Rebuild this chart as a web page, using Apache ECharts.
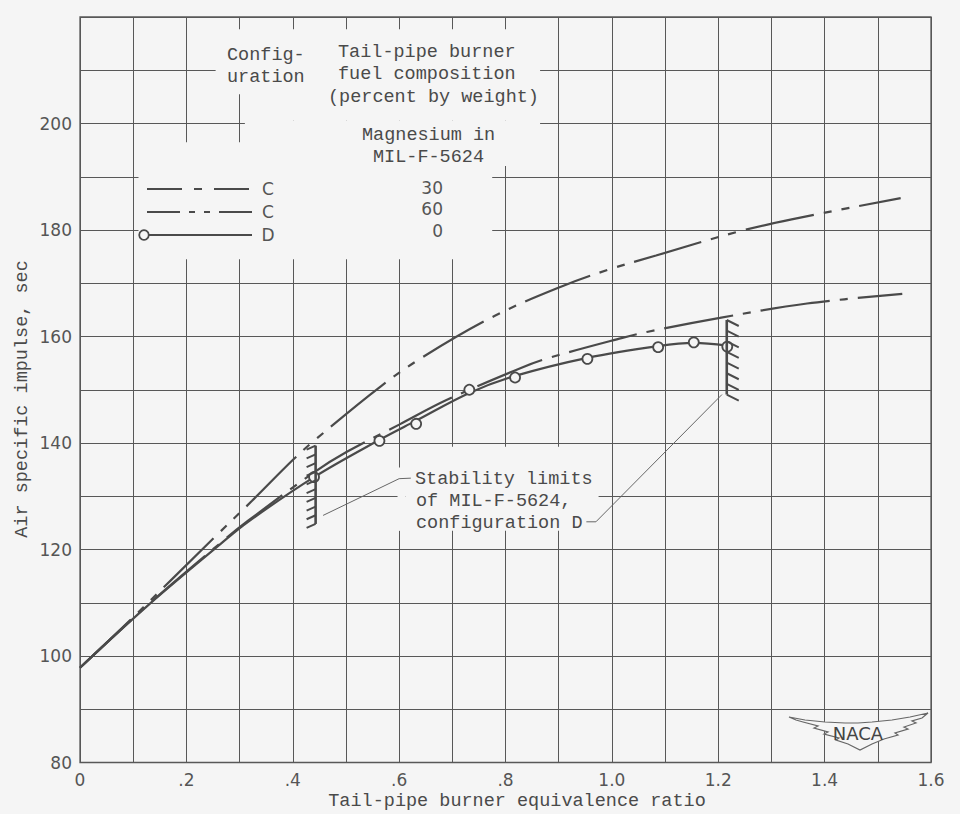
<!DOCTYPE html>
<html>
<head>
<meta charset="utf-8">
<script src="https://cdn.jsdelivr.net/npm/echarts/dist/echarts.min.js"></script>
<style>
html,body{margin:0;padding:0;background:#f5f5f5;}
#c{width:960px;height:814px;}
</style>
</head>
<body>
<div id="c"></div>
<script>
// ---------- data ----------
// Configuration C, 60 percent magnesium in MIL-F-5624
const equivRatioMg60 = [0, 0.093, 0.253, 0.323, 0.400, 0.441, 0.565, 0.647, 0.780, 0.903, 0.995, 1.083, 1.234, 1.338, 1.543];
const impulseMg60    = [97.8, 106.6, 122.3, 129.1, 136.8, 140.5, 150.6, 156.3, 163.9, 169.3, 172.6, 175.2, 179.6, 182.0, 186.0];
// Configuration C, 30 percent magnesium in MIL-F-5624
const equivRatioMg30 = [0, 0.131, 0.265, 0.316, 0.440, 0.501, 0.601, 0.690, 0.829, 0.879, 1.018, 1.068, 1.203, 1.367, 1.546];
const impulseMg30    = [97.8, 109.9, 121.3, 125.4, 134.5, 138.3, 143.5, 148.1, 154.1, 155.9, 159.7, 160.9, 163.5, 166.2, 168.0];
// Configuration D, 0 percent magnesium: faired curve
const fairEquivD   = [0, 0.131, 0.265, 0.316, 0.440, 0.563, 0.632, 0.732, 0.818, 0.954, 1.087, 1.154, 1.217];
const fairImpulseD = [97.8, 109.8, 121.1, 125.2, 133.6, 140.6, 144.2, 149.4, 152.6, 156.0, 158.2, 158.8, 158.3];
// Configuration D test points (circles)
const testEquivD   = [0.440, 0.563, 0.632, 0.732, 0.818, 0.954, 1.087, 1.154, 1.217];
const testImpulseD = [133.6, 140.4, 143.6, 150.0, 152.3, 155.8, 158.0, 158.9, 158.1];
// Stability limits of MIL-F-5624, configuration D (hatched bars)
const stabilityLimitX    = [0.443, 1.216];
const stabilityLimitLow  = [124.8, 149.1];
const stabilityLimitHigh = [139.5, 163.1];
// Leader lines from the note to the stability bars
const leaderLeft  = [[0.457, 126.4], [0.600, 133.3], [0.622, 133.4]];
const leaderRight = [[0.952, 125.2], [0.970, 125.2], [1.207, 149.1]];
// Areas of the grid blanked behind the printed notes (data units: x0, x1, y0, y1)
const maskBoxes = [
  [0.255, 0.305, 205.5, 217.7],
  [0.305, 0.865, 200.6, 217.7],
  [0.310, 0.865, 192.0, 200.6],
  [0.110, 0.775, 174.5, 196.5],
  [0.597, 0.612, 123.5, 135.4],
  [0.612, 0.975, 123.5, 139.3]
];
// Tick labels
const xTickLabels = ['0', '.2', '.4', '.6', '.8', '1.0', '1.2', '1.4', '1.6'];
const yTickLabels = ['80', '100', '120', '140', '160', '180', '200'];
// Legend text
const legendConfig = ['C', 'C', 'D'];
const legendMagnesium = ['30', '60', '0'];

// ---------- styles ----------
const BG = '#f5f5f5';
const INK = '#4a4a4a';
const GRID = '#585858';
const MONO = '"Liberation Mono", "DejaVu Sans Mono", monospace';
const LETTER = '"DejaVu Sans", "Liberation Sans", sans-serif';
const TSIZE = 18.5;

const zip = (xs, ys) => xs.map((x, i) => [x, ys[i]]);

const chart = echarts.init(document.getElementById('c'), null, {renderer: 'svg'});

function maskRender(params, api) {
  const p0 = api.coord([api.value(0), api.value(3)]);
  const p1 = api.coord([api.value(1), api.value(2)]);
  return {type: 'rect', shape: {x: p0[0], y: p0[1], width: p1[0] - p0[0], height: p1[1] - p0[1]},
          style: {fill: BG}};
}

function hatchRender(params, api) {
  const i = params.dataIndex;
  const x = api.value(0), lo = api.value(1), hi = api.value(2);
  const top = api.coord([x, hi]), bot = api.coord([x, lo]);
  const side = i === 0 ? -1 : 1;
  const n = i === 0 ? 10 : 8;
  const dx = i === 0 ? 9 : 12, dy = i === 0 ? 4 : 6;
  const children = [{type: 'line', shape: {x1: top[0], y1: top[1], x2: bot[0], y2: bot[1]},
                     style: {stroke: INK, lineWidth: 2.6}}];
  for (let k = 0; k < n; k++) {
    const y = top[1] + (bot[1] - top[1]) * k / (n - 1);
    children.push({type: 'line', shape: {x1: top[0], y1: y, x2: top[0] + side * dx, y2: y + dy},
                   style: {stroke: INK, lineWidth: 2}});
  }
  return {type: 'group', children};
}

function txt(text, x, y, align, opts) {
  return Object.assign({
    type: 'text', x: x, y: y, z: 100, silent: true,
    style: Object.assign({text: text, fill: INK, font: TSIZE + 'px ' + MONO,
                          align: align, verticalAlign: 'middle'}, (opts && opts.style) || {})
  }, (opts && opts.el) || {});
}

// NACA logo outline (pixels)
const LX = 0, LY = 4;
const logoPts = [
  [789,713],[805,716],[825,718],[845,719],[858,719],[872,718],[892,716],[910,713],[928,709],
  [922,714],[912,717],[916,719],[904,723],[908,725],[895,729],[898,731],[884,735],[872,740],[860,746],
  [848,740],[836,736],[839,734],[824,730],[828,728],[814,724],[818,722],[803,718],[796,716],[789,713]
].map(p => [p[0] + LX, p[1] + LY]);

const SMALL = {style: {font: '17px ' + LETTER, fill: '#555'}};

const graphics = [
  // header
  txt('Config-', 227, 55, 'left'),
  txt('uration', 227, 77, 'left'),
  txt('Tail-pipe burner', 338, 52, 'left'),
  txt('fuel composition', 338, 74, 'left'),
  txt('(percent by weight)', 328, 97, 'left'),
  txt('Magnesium in', 362, 135, 'left'),
  txt('MIL-F-5624', 373, 157, 'left'),
  // legend samples
  {type: 'line', z: 100, silent: true, shape: {x1: 147, y1: 189, x2: 252, y2: 189},
   style: {stroke: INK, lineWidth: 2.2, lineDash: [35, 12, 8, 12]}},
  {type: 'line', z: 100, silent: true, shape: {x1: 147, y1: 212, x2: 252, y2: 212},
   style: {stroke: INK, lineWidth: 2.2, lineDash: [33, 9, 6, 9, 6, 9]}},
  {type: 'line', z: 100, silent: true, shape: {x1: 149, y1: 235, x2: 252, y2: 235},
   style: {stroke: INK, lineWidth: 2.2}},
  {type: 'circle', z: 101, silent: true, shape: {cx: 144, cy: 235, r: 4.8},
   style: {fill: BG, stroke: INK, lineWidth: 1.8}},
  txt(legendConfig[0], 268, 189, 'center', SMALL),
  txt(legendConfig[1], 268, 212, 'center', SMALL),
  txt(legendConfig[2], 268, 235, 'center', SMALL),
  txt(legendMagnesium[0], 443, 188, 'right', SMALL),
  txt(legendMagnesium[1], 443, 209, 'right', SMALL),
  txt(legendMagnesium[2], 443, 231, 'right', SMALL),
  // note
  txt('Stability limits', 415, 479, 'left'),
  txt('of MIL-F-5624,', 416, 501.5, 'left'),
  txt('configuration D', 416, 523, 'left'),
  // axis titles
  txt('Tail-pipe burner equivalence ratio', 517, 801, 'center'),
  txt('Air specific impulse, sec', 22, 399, 'center', {el: {rotation: Math.PI / 2}}),
  // NACA logo
  {type: 'polygon', z: 100, silent: true, shape: {points: logoPts},
   style: {fill: BG, stroke: '#666', lineWidth: 1.2}},
  txt('NACA', 858 + LX, 729 + LY, 'center', {style: {font: '18px ' + LETTER, fill: '#444'}})
];

const option = {
  backgroundColor: BG,
  animation: false,
  grid: {left: 80, right: 29, top: 17, bottom: 51.5, show: true,
         borderColor: GRID, borderWidth: 1.3, outerBoundsMode: 'none'},
  xAxis: {
    type: 'value', min: 0, max: 1.6, interval: 0.1,
    axisLine: {show: false}, axisTick: {show: false},
    splitLine: {show: true, lineStyle: {color: GRID, width: 1}},
    axisLabel: {
      margin: 9, fontFamily: LETTER, fontSize: 17, color: '#555',
      formatter: v => { const i = Math.round(v / 0.2); return Math.abs(v - i * 0.2) < 1e-6 ? (xTickLabels[i] || '') : ''; }
    }
  },
  yAxis: {
    type: 'value', min: 80, max: 220, interval: 10,
    axisLine: {show: false}, axisTick: {show: false},
    splitLine: {show: true, lineStyle: {color: GRID, width: 1}},
    axisLabel: {
      margin: 8, fontFamily: LETTER, fontSize: 17, color: '#555',
      formatter: v => { const i = Math.round((v - 80) / 20); return Math.abs(v - 80 - i * 20) < 1e-6 ? (yTickLabels[i] || '') : ''; }
    }
  },
  series: [
    {type: 'custom', name: 'mask', silent: true, z: 1, renderItem: maskRender,
     encode: {x: [0, 1], y: [2, 3]}, data: maskBoxes},
    {type: 'line', name: 'C, 60 percent Mg', z: 3, data: zip(equivRatioMg60, impulseMg60),
     showSymbol: false, smooth: 0.35,
     lineStyle: {color: INK, width: 2.2, type: [70, 10, 8, 10, 8, 10]}},
    {type: 'line', name: 'C, 30 percent Mg', z: 3, data: zip(equivRatioMg30, impulseMg30),
     showSymbol: false, smooth: 0.35,
     lineStyle: {color: INK, width: 2.2, type: [70, 10, 8, 10]}},
    {type: 'line', name: 'D, 0 percent Mg', z: 4, data: zip(fairEquivD, fairImpulseD),
     showSymbol: false, smooth: 0.35,
     lineStyle: {color: INK, width: 2.2}},
    {type: 'scatter', name: 'D test points', z: 5, data: zip(testEquivD, testImpulseD),
     symbol: 'circle', symbolSize: 10,
     itemStyle: {color: BG, borderColor: INK, borderWidth: 1.8, opacity: 1}},
    {type: 'custom', name: 'stability limits', z: 6, silent: true, renderItem: hatchRender,
     encode: {x: 0, y: [1, 2]},
     data: stabilityLimitX.map((x, i) => [x, stabilityLimitLow[i], stabilityLimitHigh[i]])},
    {type: 'line', name: 'leader1', z: 5, silent: true, data: leaderLeft, showSymbol: false,
     lineStyle: {color: '#666', width: 1}},
    {type: 'line', name: 'leader2', z: 5, silent: true, data: leaderRight, showSymbol: false,
     lineStyle: {color: '#666', width: 1}}
  ],
  graphic: graphics
};
chart.setOption(option);
</script>
</body>
</html>
